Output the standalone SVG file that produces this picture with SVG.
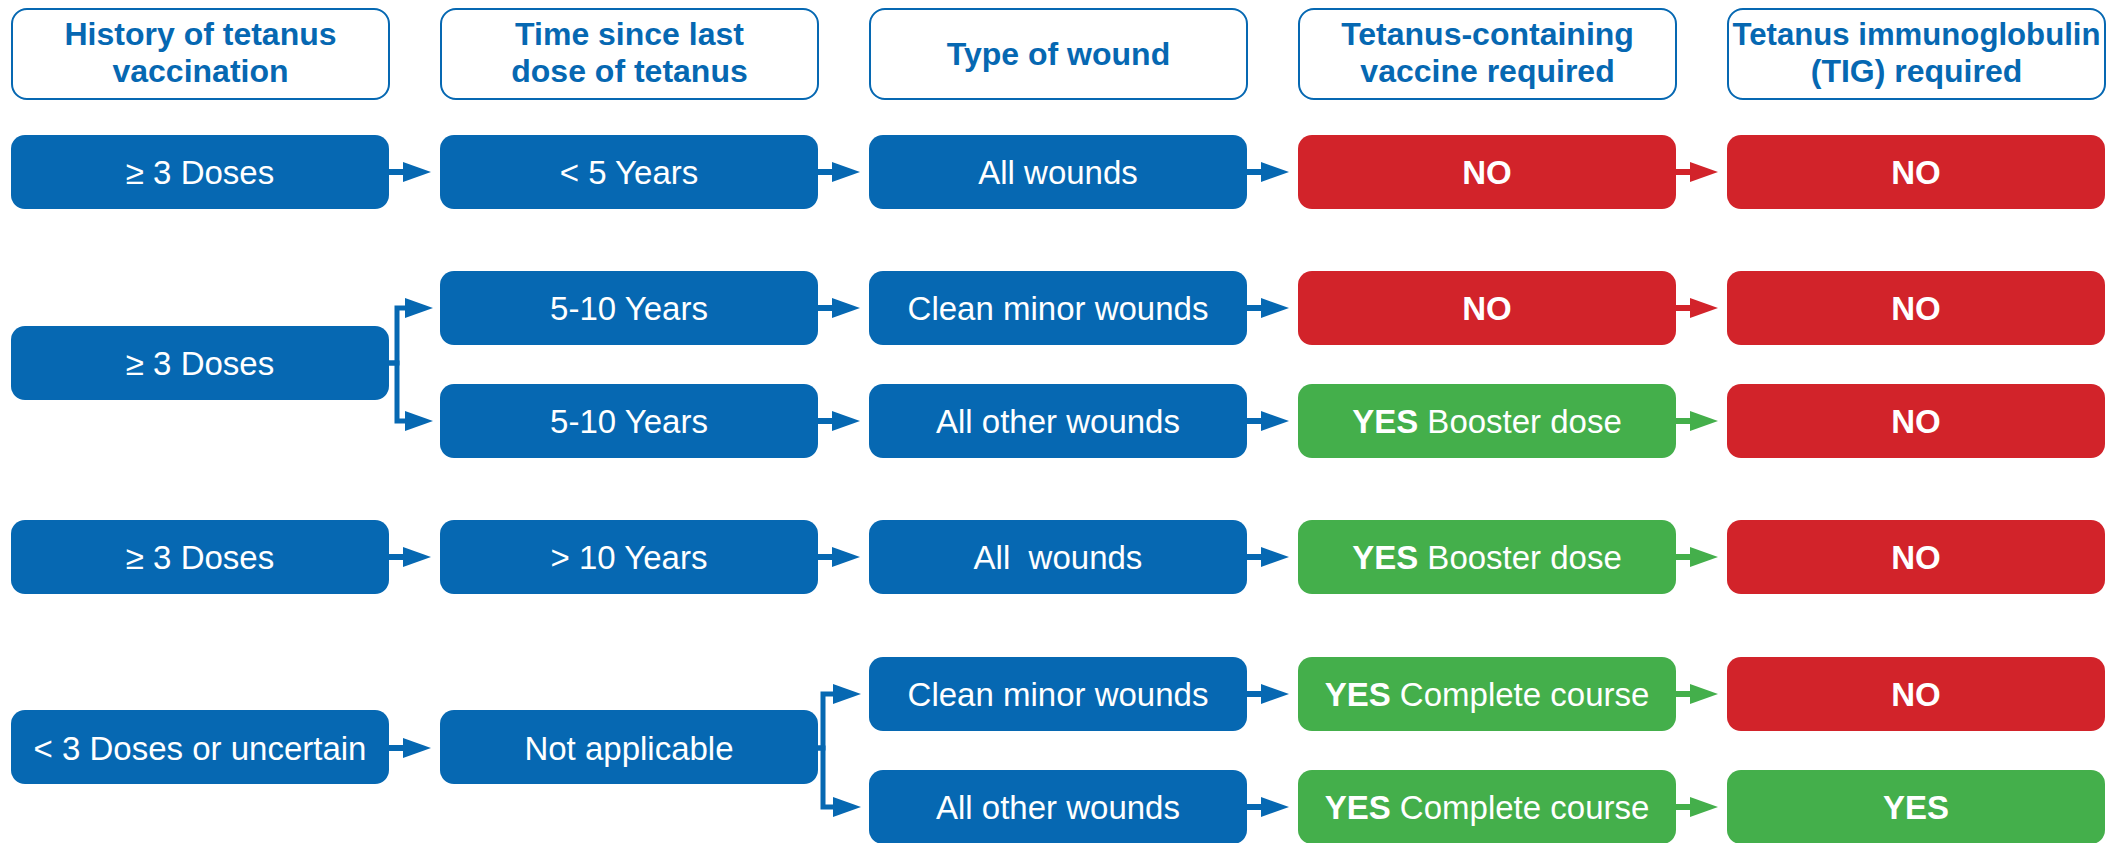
<svg xmlns="http://www.w3.org/2000/svg" width="2116" height="843" viewBox="0 0 2116 843">
<style>
text{font-family:"Liberation Sans",Arial,Helvetica,sans-serif;text-anchor:middle}
.hdr rect{fill:#fff;stroke:#0668B2;stroke-width:2}
.hdr text{fill:#0668B2;font-weight:bold;font-size:32px}
.b rect{fill:#0668B2}
.r rect{fill:#D2232A}
.g rect{fill:#44AF4B}
.n text{fill:#fff;font-size:33px}
.bold{font-weight:bold}
.cb{fill:none;stroke:#0668B2;stroke-width:6}
.cr{fill:none;stroke:#D2232A;stroke-width:6}
.cg{fill:none;stroke:#44AF4B;stroke-width:6}
.cb{marker-end:url(#ab)}
.cr{marker-end:url(#ar)}
.cg{marker-end:url(#ag)}
.br{fill:none;stroke:#0668B2;stroke-width:5;marker-end:url(#ab)}
</style>
<defs>
<marker id="ab" markerUnits="userSpaceOnUse" markerWidth="30" markerHeight="22" refX="17" refY="11" orient="auto" viewBox="0 0 30 22"><path d="M0,1 L28,11 L0,21 Z" fill="#0668B2"/></marker>
<marker id="ar" markerUnits="userSpaceOnUse" markerWidth="30" markerHeight="22" refX="17" refY="11" orient="auto" viewBox="0 0 30 22"><path d="M0,1 L28,11 L0,21 Z" fill="#D2232A"/></marker>
<marker id="ag" markerUnits="userSpaceOnUse" markerWidth="30" markerHeight="22" refX="17" refY="11" orient="auto" viewBox="0 0 30 22"><path d="M0,1 L28,11 L0,21 Z" fill="#44AF4B"/></marker>
</defs>

<g id="headers" class="hdr">
<g id="h1"><rect x="12" y="9" width="377" height="90" rx="15"/><text x="200.5" y="45">History of tetanus</text><text x="200.5" y="82">vaccination</text></g>
<g id="h2"><rect x="441" y="9" width="377" height="90" rx="15"/><text x="629.5" y="45">Time since last</text><text x="629.5" y="82">dose of tetanus</text></g>
<g id="h3"><rect x="870" y="9" width="377" height="90" rx="15"/><text x="1058.5" y="65">Type of wound</text></g>
<g id="h4"><rect x="1299" y="9" width="377" height="90" rx="15"/><text x="1487.5" y="45">Tetanus-containing</text><text x="1487.5" y="82">vaccine required</text></g>
<g id="h5"><rect x="1728" y="9" width="377" height="90" rx="15"/><text x="1916.5" y="45" textLength="368" lengthAdjust="spacingAndGlyphs">Tetanus immunoglobulin</text><text x="1916.5" y="82">(TIG) required</text></g>
</g>

<g id="connectors">
<!-- row 1 -->
<path class="cb" d="M388,172 H420"/>
<path class="cb" d="M817,172 H849"/>
<path class="cb" d="M1246,172 H1278"/>
<path class="cr" d="M1675,172 H1707"/>
<!-- row 2 -->
<path class="br" d="M388,363 H397 V308 H422"/>
<path class="br" d="M388,363 H397 V421 H422"/>
<path class="cb" d="M817,308 H849"/>
<path class="cb" d="M1246,308 H1278"/>
<path class="cr" d="M1675,308 H1707"/>
<path class="cb" d="M817,421 H849"/>
<path class="cb" d="M1246,421 H1278"/>
<path class="cg" d="M1675,421 H1707"/>
<!-- row 3 -->
<path class="cb" d="M388,557 H420"/>
<path class="cb" d="M817,557 H849"/>
<path class="cb" d="M1246,557 H1278"/>
<path class="cg" d="M1675,557 H1707"/>
<!-- row 4 -->
<path class="cb" d="M388,748 H420"/>
<path class="br" d="M817,748 H823 V694 H850"/>
<path class="br" d="M817,748 H823 V807 H850"/>
<path class="cb" d="M1246,694 H1278"/>
<path class="cg" d="M1675,694 H1707"/>
<path class="cb" d="M1246,807 H1278"/>
<path class="cg" d="M1675,807 H1707"/>
</g>

<g id="r1c1" class="n b"><rect x="11" y="135" width="378" height="74" rx="14"/><text x="200" y="184">≥ 3 Doses</text></g>
<g id="r1c2" class="n b"><rect x="440" y="135" width="378" height="74" rx="14"/><text x="629" y="184">&lt; 5 Years</text></g>
<g id="r1c3" class="n b"><rect x="869" y="135" width="378" height="74" rx="14"/><text x="1058" y="184">All wounds</text></g>
<g id="r1c4" class="n r"><rect x="1298" y="135" width="378" height="74" rx="14"/><text x="1487" y="184" class="bold">NO</text></g>
<g id="r1c5" class="n r"><rect x="1727" y="135" width="378" height="74" rx="14"/><text x="1916" y="184" class="bold">NO</text></g>

<g id="r2c1" class="n b"><rect x="11" y="326" width="378" height="74" rx="14"/><text x="200" y="375">≥ 3 Doses</text></g>
<g id="r2ac2" class="n b"><rect x="440" y="271" width="378" height="74" rx="14"/><text x="629" y="320">5-10 Years</text></g>
<g id="r2ac3" class="n b"><rect x="869" y="271" width="378" height="74" rx="14"/><text x="1058" y="320">Clean minor wounds</text></g>
<g id="r2ac4" class="n r"><rect x="1298" y="271" width="378" height="74" rx="14"/><text x="1487" y="320" class="bold">NO</text></g>
<g id="r2ac5" class="n r"><rect x="1727" y="271" width="378" height="74" rx="14"/><text x="1916" y="320" class="bold">NO</text></g>
<g id="r2bc2" class="n b"><rect x="440" y="384" width="378" height="74" rx="14"/><text x="629" y="433">5-10 Years</text></g>
<g id="r2bc3" class="n b"><rect x="869" y="384" width="378" height="74" rx="14"/><text x="1058" y="433">All other wounds</text></g>
<g id="r2bc4" class="n g"><rect x="1298" y="384" width="378" height="74" rx="14"/><text x="1487" y="433"><tspan class="bold">YES</tspan> Booster dose</text></g>
<g id="r2bc5" class="n r"><rect x="1727" y="384" width="378" height="74" rx="14"/><text x="1916" y="433" class="bold">NO</text></g>

<g id="r3c1" class="n b"><rect x="11" y="520" width="378" height="74" rx="14"/><text x="200" y="569">≥ 3 Doses</text></g>
<g id="r3c2" class="n b"><rect x="440" y="520" width="378" height="74" rx="14"/><text x="629" y="569">&gt; 10 Years</text></g>
<g id="r3c3" class="n b"><rect x="869" y="520" width="378" height="74" rx="14"/><text x="1058" y="569" xml:space="preserve">All  wounds</text></g>
<g id="r3c4" class="n g"><rect x="1298" y="520" width="378" height="74" rx="14"/><text x="1487" y="569"><tspan class="bold">YES</tspan> Booster dose</text></g>
<g id="r3c5" class="n r"><rect x="1727" y="520" width="378" height="74" rx="14"/><text x="1916" y="569" class="bold">NO</text></g>

<g id="r4c1" class="n b"><rect x="11" y="710" width="378" height="74" rx="14"/><text x="200" y="760">&lt; 3 Doses or uncertain</text></g>
<g id="r4c2" class="n b"><rect x="440" y="710" width="378" height="74" rx="14"/><text x="629" y="760">Not applicable</text></g>
<g id="r4ac3" class="n b"><rect x="869" y="657" width="378" height="74" rx="14"/><text x="1058" y="706">Clean minor wounds</text></g>
<g id="r4ac4" class="n g"><rect x="1298" y="657" width="378" height="74" rx="14"/><text x="1487" y="706"><tspan class="bold">YES</tspan> Complete course</text></g>
<g id="r4ac5" class="n r"><rect x="1727" y="657" width="378" height="74" rx="14"/><text x="1916" y="706" class="bold">NO</text></g>
<g id="r4bc3" class="n b"><rect x="869" y="770" width="378" height="74" rx="14"/><text x="1058" y="819">All other wounds</text></g>
<g id="r4bc4" class="n g"><rect x="1298" y="770" width="378" height="74" rx="14"/><text x="1487" y="819"><tspan class="bold">YES</tspan> Complete course</text></g>
<g id="r4bc5" class="n g"><rect x="1727" y="770" width="378" height="74" rx="14"/><text x="1916" y="819" class="bold">YES</text></g>
</svg>
